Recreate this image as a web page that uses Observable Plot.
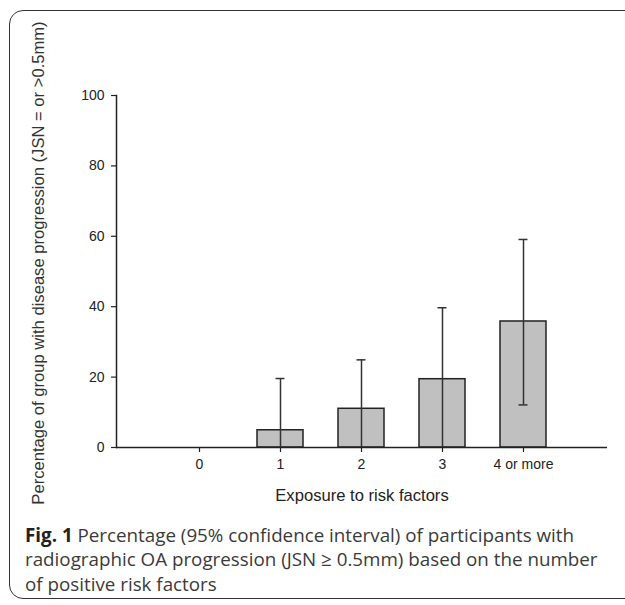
<!DOCTYPE html>
<html>
<head>
<meta charset="utf-8">
<script src="https://cdn.jsdelivr.net/npm/d3@7"></script>
<script src="https://cdn.jsdelivr.net/npm/@observablehq/plot@0.6"></script>
<style>
  html, body { margin: 0; padding: 0; background: #fff; overflow: hidden; }
  #wrap { position: relative; width: 625px; height: 605px; overflow: hidden; }
  #box { position: absolute; left: 9px; top: 10px; width: 900px; height: 589px;
         border: 1.5px solid #333; border-radius: 14px; box-sizing: border-box; }
  #chart { position: absolute; left: 0; top: 0; }
  #ytitle { position: absolute; left: 39px; top: 263px; white-space: nowrap;
            font-family: "Liberation Sans", Arial, sans-serif; font-size: 16.6px; color: #333;
            transform: translate(-50%, -50%) rotate(-90deg); }
  #xtitle { position: absolute; left: 362px; top: 486px; white-space: nowrap;
            font-family: "Liberation Sans", Arial, sans-serif; font-size: 16.6px; color: #222;
            transform: translateX(-50%); }
  #caption { position: absolute; left: 25px; top: 522.5px; white-space: nowrap;
             font-family: "Open Sans", "Noto Sans", sans-serif; font-size: 18.8px;
             line-height: 24.5px; color: #3a3a3a; }
  #caption b { color: #222; }
</style>
</head>
<body>
<div id="wrap">
  <div id="box"></div>
  <div id="chart"></div>
  <div id="ytitle">Percentage of group with disease progression (JSN = or &gt;0.5mm)</div>
  <div id="xtitle">Exposure to risk factors</div>
  <div id="caption"><b>Fig. 1</b> Percentage (95% confidence interval) of participants with<br>radiographic OA progression (JSN ≥ 0.5mm) based on the number<br>of positive risk factors</div>
</div>
<script>
const categories = ["0", "1", "2", "3", "4 or more"];
const percentages = [0, 4.9, 11.0, 19.4, 35.8];
const ciLower = [null, 0, 0, 0, 12.1];
const ciUpper = [null, 19.6, 24.9, 39.7, 59.1];
const yTicks = [0, 20, 40, 60, 80, 100];

const data = categories.map((c, i) => ({cat: c, value: percentages[i], lower: ciLower[i], upper: ciUpper[i]}));
const err = data.filter(d => d.upper != null);

const chart = Plot.plot({
  width: 625,
  height: 520,
  marginTop: 95,
  marginBottom: 73,
  marginLeft: 116,
  marginRight: 18,
  style: {fontFamily: "'Liberation Sans', Arial, sans-serif", fontSize: "14px", color: "#222", background: "transparent"},
  x: {type: "band", domain: categories, paddingInner: 0.427, paddingOuter: 0.713, label: null},
  y: {domain: [0, 100], label: null},
  marks: [
    Plot.barY(data, {x: "cat", y: "value", fill: "#c0c0c0", stroke: "#222", strokeWidth: 1.5}),
    Plot.ruleX(err, {x: "cat", y1: "lower", y2: "upper", stroke: "#333", strokeWidth: 1.5}),
    Plot.tickY(err, {x: "cat", y: "upper", stroke: "#333", strokeWidth: 1.5, insetLeft: 18.5, insetRight: 18.5}),
    Plot.tickY(err.filter(d => d.lower > 0), {x: "cat", y: "lower", stroke: "#333", strokeWidth: 1.5, insetLeft: 18.5, insetRight: 18.5}),
    Plot.ruleY([0], {stroke: "#222", strokeWidth: 1.5}),
    Plot.frame({anchor: "left", stroke: "#222", strokeWidth: 1.5}),
    Plot.axisY({ticks: yTicks, tickSize: 5, tickPadding: 7, label: null, stroke: "#222", strokeWidth: 1.2}),
    Plot.axisX({tickSize: 5, tickPadding: 7, label: null, stroke: "#222", strokeWidth: 1.2})
  ]
});
document.getElementById("chart").appendChild(chart);
</script>
</body>
</html>
